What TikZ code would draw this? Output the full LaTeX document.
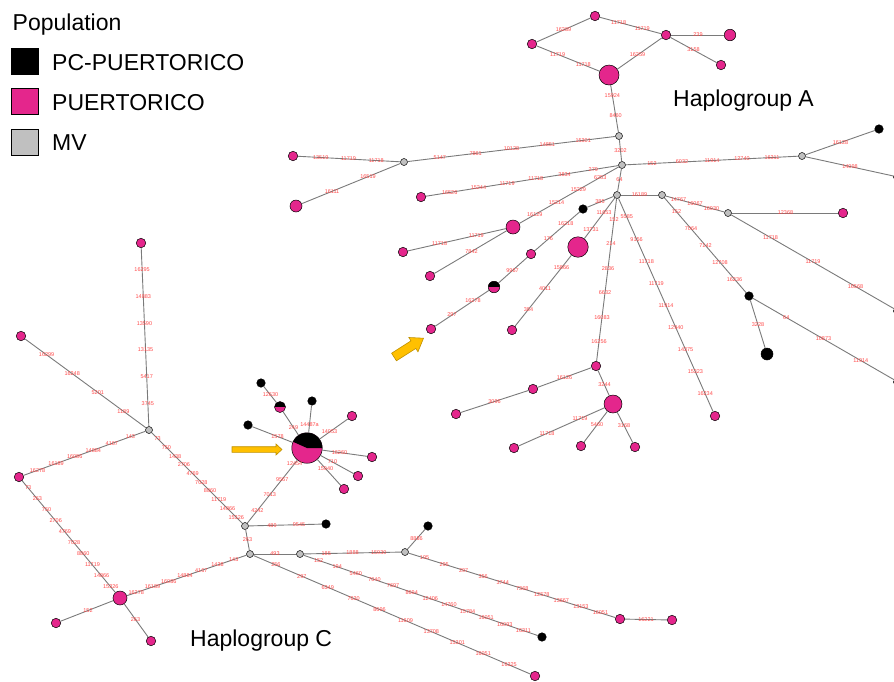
\documentclass[tikz,border=0pt]{standalone}
\usepackage{fontspec}
\setmainfont{Liberation Sans}
\definecolor{prpink}{HTML}{E4268C}
\definecolor{mvgrey}{HTML}{C0C0C0}
\definecolor{edgegrey}{HTML}{7A7A7A}
\definecolor{mutred}{HTML}{FF4848}
\definecolor{pointerfill}{HTML}{FFC000}
\definecolor{pointerdraw}{HTML}{BF9000}

\tikzset{
  hap/.style={circle,draw=black,line width=0.5pt,inner sep=0pt,minimum size=#1},
  hap/.default=9.5pt,
  prnode/.style={hap=#1,fill=prpink},
  prnode/.default=9.5pt,
  pcnode/.style={hap=#1,fill=black},
  pcnode/.default=8.5pt,
  mvnode/.style={hap=#1,fill=mvgrey},
  mvnode/.default=7pt,
  halfnode/.style={hap=#1,fill=prpink,path picture={
      \fill[black] (path picture bounding box.west) rectangle (path picture bounding box.north east);}},
  halfnode/.default=11pt,
  pienode/.style={hap=#1,fill=prpink,path picture={
      \fill[black] (path picture bounding box.center) -- +(0:40pt) -- +(60:40pt)
        -- +(120:40pt) -- +(156:40pt) -- cycle;}},
  branch/.style={draw=edgegrey,line width=0.9pt},
  mut/.style={text=mutred,font=\fontsize{5.5}{5.5}\selectfont,inner sep=0pt},
  legtx/.style={font=\fontsize{23}{23}\selectfont,anchor=base west,inner sep=0pt},
  legbox/.style={rectangle,draw=black,line width=0.8pt,minimum size=26.5pt,inner sep=0pt},
  pointer/.style={fill=pointerfill,draw=pointerdraw,line width=0.6pt},
}

% branch between two haplotypes, mutations spread evenly along it
\newcommand\mutedge[3]{%
  \xdef\nmut{0}%
  \foreach \mtx in {#3}{\pgfmathtruncatemacro\kk{\nmut+1}\xdef\nmut{\kk}}%
  \draw[branch] (#1) -- (#2);
  \foreach \mtx [count=\q] in {#3}{%
    \pgfmathsetmacro\pp{\q/(\nmut+1)}%
    \path (#1.center) -- (#2.center) node[mut,pos=\pp] (#1-#2-\q) {\mtx};}%
}

\begin{document}
\begin{tikzpicture}[x=1pt,y=-1pt]
  \useasboundingbox (0,0) rectangle (894,681);
  \clip (0,0) rectangle (894,681);

  % legend
  \node[legtx] (poptitle) at (12.5,30.5) {Population};
  \node[legbox,fill=black] (keypc) at (25,61.5) {};
  \node[legtx] (txpc) at (52,70.5) {PC-PUERTORICO};
  \node[legbox,fill=prpink] (keypr) at (25,101.5) {};
  \node[legtx] (txpr) at (52,110.5) {PUERTORICO};
  \node[legbox,fill=mvgrey] (keymv) at (25,142.5) {};
  \node[legtx] (txmv) at (52,150.5) {MV};

  % Haplogroup A: haplotypes
  \node[prnode] (a1) at (532,44) {};
  \node[prnode] (a2) at (595,16) {};
  \node[prnode] (a3) at (666,35) {};
  \node[prnode=11.5pt] (a4) at (730,35) {};
  \node[prnode] (a5) at (721,65) {};
  \node[prnode=20pt] (a6) at (609,75) {};
  \node[mvnode] (a7) at (619,136) {};
  \node[mvnode] (a8) at (404,162) {};
  \node[prnode] (a9) at (293,156) {};
  \node[prnode=12pt] (a10) at (296,206) {};
  \node[mvnode] (a11) at (622,165) {};
  \node[mvnode] (a12) at (802,156) {};
  \node[pcnode] (a13) at (879,129) {};
  \node[pcnode=9pt] (a14) at (898,177) {};
  \node[prnode] (a15) at (421,197) {};
  \node[prnode=14pt] (a16) at (513,227) {};
  \node[prnode] (a17) at (403,252) {};
  \node[prnode] (a18) at (430,276) {};
  \node[mvnode] (a19) at (617,195) {};
  \node[mvnode] (a20) at (662,195) {};
  \node[mvnode] (a21) at (728,213) {};
  \node[prnode] (a22) at (843,213) {};
  \node[pcnode=9pt] (a23) at (898,311) {};
  \node[pcnode] (a24) at (749,296) {};
  \node[pcnode=12pt] (a25) at (767,354) {};
  \node[pcnode=9pt] (a26) at (898,382) {};
  \node[pcnode] (a27) at (583,209) {};
  \node[prnode] (a28) at (531,254) {};
  \node[halfnode=11.5pt] (a29) at (494,287) {};
  \node[prnode] (a30) at (431,329) {};
  \node[prnode=20.5pt] (a31) at (578,247) {};
  \node[prnode] (a32) at (512,330) {};
  \node[prnode] (a33) at (596,366) {};
  \node[prnode] (a34) at (715,416) {};
  \node[prnode] (a35) at (533,389) {};
  \node[prnode] (a36) at (456,414) {};
  \node[prnode=18pt] (a37) at (613,404) {};
  \node[prnode] (a38) at (514,448) {};
  \node[prnode] (a39) at (581,446) {};
  \node[prnode] (a40) at (635,447) {};

  % Haplogroup A: branches
  \mutedge{a1}{a2}{16289}
  \mutedge{a1}{a6}{11719,11718}
  \mutedge{a2}{a3}{11718,11719}
  \mutedge{a3}{a4}{239}
  \mutedge{a3}{a5}{3158}
  \mutedge{a3}{a6}{16259}
  \mutedge{a6}{a7}{15924,8460}
  \mutedge{a7}{a11}{3202}
  \mutedge{a7}{a8}{15301,14851,10128,7861,5147}
  \mutedge{a8}{a9}{11718,11719,13519}
  \mutedge{a8}{a10}{16519,16111}
  \mutedge{a11}{a12}{152,6032,11914,12740,16311}
  \mutedge{a12}{a13}{16128}
  \mutedge{a12}{a14}{14098}
  \mutedge{a11}{a15}{279,3834,11718,11719,15244,16526}
  \mutedge{a11}{a16}{6253,15229,15214,16129}
  \mutedge{a16}{a17}{11719,11718}
  \mutedge{a16}{a18}{7842}
  \mutedge{a11}{a19}{64}
  \mutedge{a19}{a20}{16189}
  \mutedge{a20}{a21}{14767,16067,16930}
  \mutedge{a21}{a22}{12368}
  \mutedge{a21}{a23}{11718,11719,16568}
  \mutedge{a20}{a24}{152,7064,7142,12708,16236}
  \mutedge{a24}{a25}{3228}
  \mutedge{a24}{a26}{64,10873,11914}
  \mutedge{a19}{a27}{385}
  \mutedge{a27}{a28}{16218,176}
  \mutedge{a28}{a29}{9967}
  \mutedge{a29}{a30}{16278,297}
  \mutedge{a19}{a31}{11653,13731}
  \mutedge{a31}{a32}{15866,4011,384}
  \mutedge{a19}{a33}{152,214,2836,6632,16083,16256}
  \mutedge{a19}{a34}{5585,9156,11718,11719,11914,12940,14375,15323,16234}
  \mutedge{a33}{a35}{16126}
  \mutedge{a35}{a36}{3096}
  \mutedge{a33}{a37}{3244}
  \mutedge{a37}{a38}{11719,11718}
  \mutedge{a37}{a39}{5460}
  \mutedge{a37}{a40}{3168}

  % Haplogroup C: haplotypes
  \node[prnode] (c1) at (141,243) {};
  \node[mvnode] (c2) at (149,430) {};
  \node[prnode] (c3) at (21,336) {};
  \node[prnode] (c4) at (19,477) {};
  \node[mvnode] (c5) at (245,526) {};
  \node[mvnode] (c6) at (250,554) {};
  \node[pcnode] (c7) at (326,524) {};
  \node[pienode=30.5pt] (c8) at (307,448) {};
  \node[pcnode] (c9) at (261,383) {};
  \node[halfnode=11pt] (c10) at (280,407) {};
  \node[pcnode] (c11) at (312,401) {};
  \node[pcnode] (c12) at (248,425) {};
  \node[prnode] (c13) at (352,416) {};
  \node[prnode] (c14) at (372,457) {};
  \node[prnode] (c15) at (358,476) {};
  \node[prnode] (c16) at (344,489) {};
  \node[mvnode] (c17) at (300,554) {};
  \node[mvnode] (c18) at (405,552) {};
  \node[pcnode] (c19) at (428,526) {};
  \node[prnode] (c20) at (620,619) {};
  \node[prnode] (c21) at (672,620) {};
  \node[pcnode] (c22) at (542,637) {};
  \node[prnode] (c23) at (535,676) {};
  \node[prnode=14pt] (c24) at (120,598) {};
  \node[prnode] (c25) at (56,623) {};
  \node[prnode] (c26) at (151,641) {};

  % Haplogroup C: branches
  \mutedge{c2}{c1}{3745,5417,13135,13590,14883,16295}
  \mutedge{c2}{c3}{1189,5201,16248,16299}
  \mutedge{c2}{c4}{143,4167,14884,16086,16189,16278}
  \mutedge{c2}{c5}{73,750,1438,2706,4769,7028,8860,11719,14866,15326}
  \mutedge{c5}{c6}{263}
  \mutedge{c5}{c7}{489,9545}
  \mutedge{c5}{c8}{4242,7013,9567,12454}
  \mutedge{c10}{c9}{12630}
  \mutedge{c8}{c10}{249}
  \mutedge{c8}{c11}{14487a}
  \mutedge{c8}{c12}{1578}
  \mutedge{c8}{c13}{14053}
  \mutedge{c8}{c14}{16260}
  \mutedge{c8}{c15}{710}
  \mutedge{c8}{c16}{15940}
  \mutedge{c6}{c17}{493}
  \mutedge{c17}{c18}{185,1888,15930}
  \mutedge{c18}{c19}{8886}
  \mutedge{c18}{c20}{195,295,297,356,3744,7368,12578,13667,13153,16051}
  \mutedge{c20}{c21}{16221}
  \mutedge{c17}{c22}{152,194,5460,7040,7697,8694,12406,14760,15784,16051,16093,16311}
  \mutedge{c6}{c23}{256,297,6349,7630,8696,11609,13708,15301,16051,16325}
  \mutedge{c6}{c24}{143,1438,4167,14884,16086,16189,16278}
  \mutedge{c4}{c24}{73,263,750,2706,4769,7028,8860,11719,14866,15326}
  \mutedge{c24}{c25}{152}
  \mutedge{c24}{c26}{263}

  % group names
  \node[legtx] (hgA) at (673,106) {Haplogroup A};
  \node[legtx] (hgC) at (190,646) {Haplogroup C};

  % pointers
  \begin{scope}[shift={(394,357)},rotate=32.5]
    \draw[pointer] (0,-4.5) -- (23,-4.5) -- (23,-8.5) -- (35,0) -- (23,8.5) -- (23,4.5) -- (0,4.5) -- cycle;
  \end{scope}
  \begin{scope}[shift={(232,449.5)}]
    \draw[pointer] (0,-2.8) -- (44,-2.8) -- (44,-5.5) -- (50,0) -- (44,5.5) -- (44,2.8) -- (0,2.8) -- cycle;
  \end{scope}
\end{tikzpicture}
\end{document}
